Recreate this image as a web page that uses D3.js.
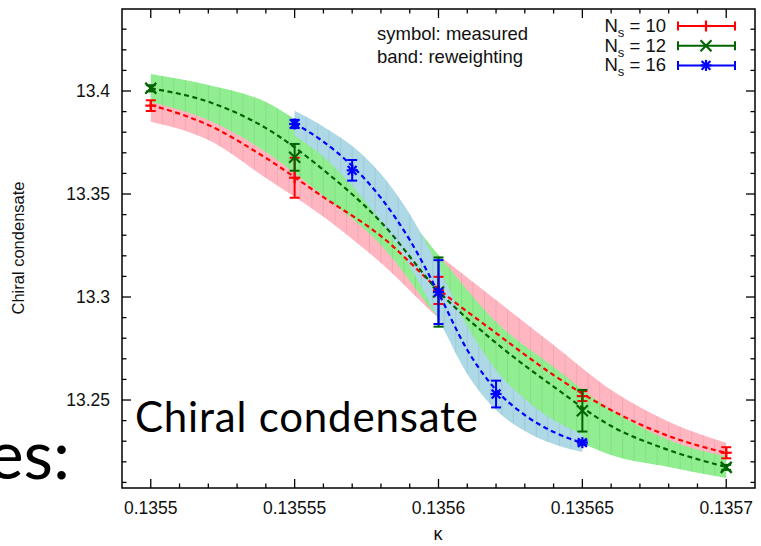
<!DOCTYPE html>
<html>
<head>
<meta charset="utf-8">
<script src="https://cdn.jsdelivr.net/npm/d3@7"></script>
<style>
  body { margin: 0; background: #fff; }
  svg { display: block; font-family: "Liberation Sans", Arial, sans-serif; }
</style>
</head>
<body>
<div id="chart"></div>
<script>
// reweighting bands, N_s = 10 and 12 (full kappa range)
const band_kappa = [0.1355, 0.13552, 0.13554, 0.13556, 0.13558, 0.1356, 0.13562, 0.13564, 0.13566, 0.13568, 0.1357]
const red_line = [13.3932, 13.3835, 13.3675, 13.3485, 13.3296, 13.3039, 13.2825, 13.2621, 13.2451, 13.2325, 13.2243]
const red_hi = [13.4015, 13.3908, 13.3772, 13.3583, 13.3427, 13.3204, 13.2985, 13.2767, 13.2549, 13.2395, 13.2293]
const red_lo = [13.3851, 13.3762, 13.3578, 13.3390, 13.3165, 13.2898, 13.2665, 13.2476, 13.2354, 13.2257, 13.2189]
const green_line = [13.4013, 13.3948, 13.3820, 13.3617, 13.3364, 13.3029, 13.2777, 13.2565, 13.2374, 13.2257, 13.2175]
const green_hi = [13.4083, 13.4029, 13.3947, 13.3762, 13.3544, 13.3204, 13.2879, 13.2660, 13.2451, 13.2306, 13.2226]
const green_lo = [13.3947, 13.3859, 13.3704, 13.3490, 13.3252, 13.2898, 13.2597, 13.2369, 13.2233, 13.2175, 13.2121]

// reweighting band, N_s = 16
const blue_kappa = [0.13555, 0.13556, 0.13557, 0.13558, 0.13559, 0.1356, 0.13561, 0.13562, 0.13563, 0.13564, 0.13565]
const blue_line = [13.3843, 13.3754, 13.3636, 13.3481, 13.3277, 13.3019, 13.2743, 13.2549, 13.2427, 13.2345, 13.2291]
const blue_hi = [13.3904, 13.3827, 13.3733, 13.3597, 13.3403, 13.3146, 13.2859, 13.2646, 13.2505, 13.2403, 13.2335]
const blue_lo = [13.3783, 13.3681, 13.3539, 13.3364, 13.3150, 13.2893, 13.2626, 13.2451, 13.2350, 13.2286, 13.2248]

// measured points
const red_pts_k = [0.1355, 0.13555, 0.1356, 0.13565, 0.1357]
const red_pts_v = [13.3929, 13.3579, 13.3032, 13.2519, 13.2244]
const red_pts_e = [0.0026, 0.0097, 0.0066, 0.0024, 0.0027]
const green_pts_k = [0.1355, 0.13555, 0.1356, 0.13565, 0.1357]
const green_pts_v = [13.4013, 13.3678, 13.3024, 13.2448, 13.2173]
const green_pts_e = [0.0015, 0.0065, 0.0168, 0.0101, 0.0012]
const blue_pts_k = [0.13555, 0.13557, 0.1356, 0.13562, 0.13565]
const blue_pts_v = [13.3840, 13.3615, 13.3024, 13.2529, 13.2293]
const blue_pts_e = [0.0020, 0.0050, 0.0155, 0.0065, 0.0010]

const x_ticks = [0.1355, 0.13555, 0.1356, 0.13565, 0.1357]
const x_tick_labels = ["0.1355", "0.13555", "0.1356", "0.13565", "0.1357"]
const y_ticks = [13.25, 13.3, 13.35, 13.4]
const y_tick_labels = ["13.25", "13.3", "13.35", "13.4"]
const legend_labels = ["10", "12", "16"]

const width = 761, height = 546
const plot_left = 122, plot_right = 755, plot_top = 9, plot_bottom = 488

const svg = d3.select("#chart").append("svg")
  .attr("width", width).attr("height", height)

const x = d3.scaleLinear().domain([0.13549, 0.13571]).range([plot_left, plot_right])
const y = d3.scaleLinear().domain([13.207, 13.44]).range([plot_bottom + 0.6, plot_top - 0.4])

const series = [
  { kappa: band_kappa, line: red_line, lo: red_lo, hi: red_hi, fill: "#ffb6c1", color: "#ff0000", bar: "#ff0000",
    pk: red_pts_k, pv: red_pts_v, pe: red_pts_e, sym: "plus" },
  { kappa: band_kappa, line: green_line, lo: green_lo, hi: green_hi, fill: "#90ee90", color: "#006400", bar: "#006400",
    pk: green_pts_k, pv: green_pts_v, pe: green_pts_e, sym: "cross" },
  { kappa: blue_kappa, line: blue_line, lo: blue_lo, hi: blue_hi, fill: "#add8e6", color: "#0000ff", bar: "#0000ff",
    pk: blue_pts_k, pv: blue_pts_v, pe: blue_pts_e, sym: "star" }
]

const area = d3.area()
  .x(d => x(d.k)).y0(d => y(d.lo)).y1(d => y(d.hi))
  .curve(d3.curveMonotoneX)
const line = d3.line()
  .x(d => x(d.k)).y(d => y(d.v))
  .curve(d3.curveMonotoneX)

const defs = svg.append("defs")

// bands with the thin seams between the polygon pieces
series.forEach((s, i) => {
  const rows = s.kappa.map((k, j) => ({ k: k, lo: s.lo[j], hi: s.hi[j] }))
  const path_d = area(rows)
  defs.append("clipPath").attr("id", "band" + i).append("path").attr("d", path_d)
  svg.append("path").attr("d", path_d).attr("fill", s.fill)
  const k0 = s.kappa[0], k1 = s.kappa[s.kappa.length - 1]
  svg.append("g").attr("clip-path", `url(#band${i})`)
    .selectAll("line")
    .data(d3.range(k0 + 0.000004, k1 - 0.000001, 0.000004))
    .join("line")
    .attr("x1", d => x(d)).attr("x2", d => x(d))
    .attr("y1", plot_top).attr("y2", plot_bottom)
    .attr("stroke", d3.color(s.fill).darker(0.5))
    .attr("stroke-opacity", 0.4)
    .attr("stroke-width", 1)
})

// dashed reweighting curves
series.forEach(s => {
  svg.append("path")
    .attr("d", line(s.kappa.map((k, j) => ({ k: k, v: s.line[j] }))))
    .attr("fill", "none")
    .attr("stroke", s.color)
    .attr("stroke-width", 2.2)
    .attr("stroke-dasharray", "5,3.5")
})

const draw_symbol = (g, sym, cx, cy, color) => {
  const r = 5.5
  const segs = []
  if (sym === "plus" || sym === "star") {
    segs.push([cx - r, cy, cx + r, cy], [cx, cy - r, cx, cy + r])
  }
  if (sym === "cross" || sym === "star") {
    const q = sym === "star" ? r * 0.8 : r
    segs.push([cx - q, cy - q, cx + q, cy + q], [cx - q, cy + q, cx + q, cy - q])
  }
  segs.forEach(p => {
    g.append("line")
      .attr("x1", p[0]).attr("y1", p[1]).attr("x2", p[2]).attr("y2", p[3])
      .attr("stroke", color).attr("stroke-width", 2.2)
  })
}

// measured points with error bars
series.forEach(s => {
  const g = svg.append("g")
  s.pk.forEach((k, j) => {
    const cx = x(k), yt = y(s.pv[j] + s.pe[j]), yb = y(s.pv[j] - s.pe[j])
    g.append("line").attr("x1", cx).attr("x2", cx).attr("y1", yt).attr("y2", yb)
      .attr("stroke", s.bar).attr("stroke-width", 2)
    ;[yt, yb].forEach(yy => {
      g.append("line").attr("x1", cx - 5).attr("x2", cx + 5).attr("y1", yy).attr("y2", yy)
        .attr("stroke", s.bar).attr("stroke-width", 2)
    })
    draw_symbol(g, s.sym, cx, y(s.pv[j]), s.color)
  })
})

// frame and ticks (inward, mirrored)
const x_minor = d3.range(0.13551, 0.135695, 0.00001).filter(v => !x_ticks.some(t => Math.abs(t - v) < 1e-9))
const y_minor = d3.range(13.21, 13.435, 0.01).filter(v => !y_ticks.some(t => Math.abs(t - v) < 1e-6))

const tick_g = svg.append("g").attr("stroke", "#000").attr("stroke-width", 1.3)
const tick = (x1, y1, x2, y2) => tick_g.append("line")
  .attr("x1", x1).attr("y1", y1).attr("x2", x2).attr("y2", y2)
x_ticks.forEach(v => { tick(x(v), plot_bottom, x(v), plot_bottom - 9); tick(x(v), plot_top, x(v), plot_top + 9) })
x_minor.forEach(v => { tick(x(v), plot_bottom, x(v), plot_bottom - 4.5); tick(x(v), plot_top, x(v), plot_top + 4.5) })
y_ticks.forEach(v => { tick(plot_left, y(v), plot_left + 9, y(v)); tick(plot_right, y(v), plot_right - 9, y(v)) })
y_minor.forEach(v => { tick(plot_left, y(v), plot_left + 4.5, y(v)); tick(plot_right, y(v), plot_right - 4.5, y(v)) })

svg.append("rect")
  .attr("x", plot_left).attr("y", plot_top)
  .attr("width", plot_right - plot_left).attr("height", plot_bottom - plot_top)
  .attr("fill", "none").attr("stroke", "#000").attr("stroke-width", 1.5)

svg.append("g").selectAll("text").data(x_ticks).join("text")
  .attr("x", d => x(d)).attr("y", 514)
  .attr("text-anchor", "middle").attr("font-size", 17.5).attr("fill", "#111")
  .text((d, i) => x_tick_labels[i])

svg.append("g").selectAll("text").data(y_ticks).join("text")
  .attr("x", 110).attr("y", d => y(d) + 6.3)
  .attr("text-anchor", "end").attr("font-size", 17.5).attr("fill", "#111")
  .text((d, i) => y_tick_labels[i])

svg.append("text")
  .attr("transform", "translate(24,248) rotate(-90)")
  .attr("text-anchor", "middle").attr("font-size", 16.5).attr("fill", "#111")
  .text("Chiral condensate")

svg.append("text")
  .attr("x", 438).attr("y", 540)
  .attr("text-anchor", "middle").attr("font-size", 18).attr("fill", "#111")
  .text("κ")

svg.append("text").attr("x", 377).attr("y", 40)
  .attr("font-size", 18.5).attr("fill", "#111").text("symbol: measured")
svg.append("text").attr("x", 377).attr("y", 63)
  .attr("font-size", 18.5).attr("fill", "#111").text("band: reweighting")

// legend
series.forEach((s, i) => {
  const ly = 26 + i * 19.7
  const t = svg.append("text").attr("x", 666).attr("y", ly + 6)
    .attr("text-anchor", "end").attr("font-size", 18.5).attr("fill", "#111")
  t.append("tspan").text("N")
  t.append("tspan").attr("font-size", 13).attr("dy", 5).text("s")
  t.append("tspan").attr("dy", -5).text(" = " + legend_labels[i])
  const g = svg.append("g")
  g.append("line").attr("x1", 678).attr("x2", 735).attr("y1", ly).attr("y2", ly)
    .attr("stroke", s.bar).attr("stroke-width", 2)
  ;[678, 735].forEach(xx => {
    g.append("line").attr("x1", xx).attr("x2", xx).attr("y1", ly - 4.5).attr("y2", ly + 4.5)
      .attr("stroke", s.bar).attr("stroke-width", 2)
  })
  draw_symbol(g, s.sym, 706, ly, s.color)
})

// slide text lying over the figure
svg.append("text")
  .attr("x", 135).attr("y", 432)
  .style("font-family", "Lato, 'Open Sans', sans-serif")
  .attr("font-size", 42).attr("fill", "#000")
  .attr("textLength", 343)
  .text("Chiral condensate")

svg.append("text")
  .attr("x", 70).attr("y", 479)
  .attr("text-anchor", "end")
  .style("font-family", "Lato, 'Open Sans', sans-serif")
  .attr("font-size", 68).attr("fill", "#000")
  .text("es:")
</script>
</body>
</html>
